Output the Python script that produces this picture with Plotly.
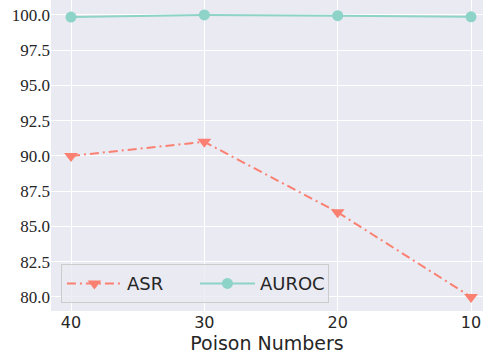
import plotly.graph_objects as go

poison_numbers = [40, 30, 20, 10]
asr = [90.0, 91.0, 86.0, 80.0]
auroc = [99.85, 100.0, 99.95, 99.87]
y_ticks = [80.0, 82.5, 85.0, 87.5, 90.0, 92.5, 95.0, 97.5, 100.0]

fig = go.Figure()
fig.add_trace(go.Scatter(
    x=poison_numbers, y=asr, name="ASR", mode="lines+markers",
    line=dict(color="#FA8072", width=2, dash="9px,4px,2px,4px"),
    marker=dict(symbol="triangle-down", size=12, color="#FA8072"),
))
fig.add_trace(go.Scatter(
    x=poison_numbers, y=auroc, name="AUROC", mode="lines+markers",
    line=dict(color="#8DD3C7", width=2),
    marker=dict(symbol="circle", size=11, color="#8DD3C7"),
))
fig.update_layout(
    width=483, height=355,
    margin=dict(l=51, r=0, t=0, b=44, autoexpand=False),
    plot_bgcolor="#EAEAF2", paper_bgcolor="white",
    showlegend=True,
    legend=dict(
        orientation="h", x=0.023, y=0.025, xanchor="left", yanchor="bottom",
        bgcolor="rgba(234,234,242,0.8)", bordercolor="#CCCCCC", borderwidth=1,
        font=dict(family="DejaVu Sans", size=18, color="#262626"),
        itemwidth=55, entrywidth=63, entrywidthmode="pixels",
    ),
    xaxis=dict(
        range=[41.5, 9.1], tickvals=poison_numbers,
        ticktext=[str(v) for v in poison_numbers],
        showgrid=True, gridcolor="white", gridwidth=1.2, zeroline=False,
        tickfont=dict(family="DejaVu Sans", size=16, color="#262626"),
        title=dict(text="Poison Numbers", font=dict(family="DejaVu Sans", size=19, color="#262626"), standoff=0),
        ticks="", showline=False,
    ),
    yaxis=dict(
        range=[79.0, 101.06], tickvals=y_ticks,
        ticktext=[f"{v:.1f}" for v in y_ticks],
        showgrid=True, gridcolor="white", gridwidth=1.2, zeroline=False,
        tickfont=dict(family="Liberation Serif", size=17, color="#262626"),
        ticks="", showline=False,
    ),
)
fig.write_html("out.html", config={"displayModeBar": False},
               post_script="document.body.style.margin='0';")
